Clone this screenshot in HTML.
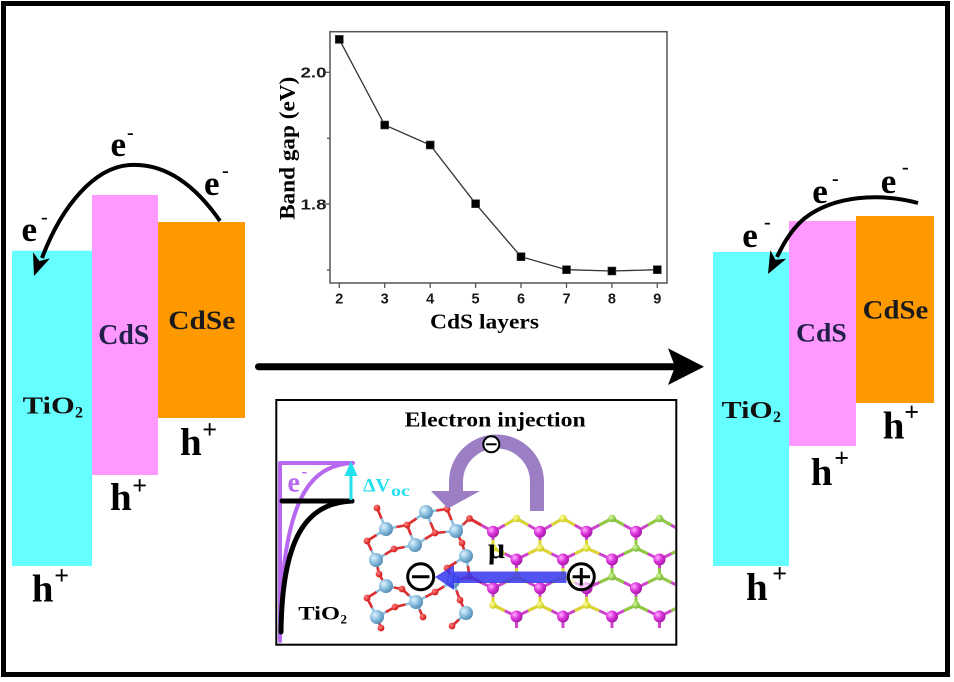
<!DOCTYPE html>
<html><head><meta charset="utf-8"><style>
html,body{margin:0;padding:0;background:#fff;}
svg{display:block;}
.sb{font-family:"Liberation Serif",serif;font-weight:bold;}
.ss{font-family:"Liberation Sans",sans-serif;font-weight:bold;}
</style></head><body>
<svg width="954" height="682" viewBox="0 0 954 682" xmlns="http://www.w3.org/2000/svg">
<defs>
<radialGradient id="gM" cx="0.35" cy="0.35" r="0.7"><stop offset="0" stop-color="#ffb0ff"/><stop offset="0.5" stop-color="#dd33dd"/><stop offset="1" stop-color="#a018a0"/></radialGradient>
<radialGradient id="gY" cx="0.35" cy="0.35" r="0.7"><stop offset="0" stop-color="#ffffa0"/><stop offset="1" stop-color="#cccc10"/></radialGradient>
<radialGradient id="gG" cx="0.35" cy="0.35" r="0.7"><stop offset="0" stop-color="#d8f5a0"/><stop offset="1" stop-color="#70b828"/></radialGradient>
<radialGradient id="gT" cx="0.35" cy="0.35" r="0.7"><stop offset="0" stop-color="#e0f2ff"/><stop offset="0.5" stop-color="#8cc0e0"/><stop offset="1" stop-color="#4f88b2"/></radialGradient>
<radialGradient id="gO" cx="0.35" cy="0.35" r="0.7"><stop offset="0" stop-color="#ff8080"/><stop offset="1" stop-color="#d01010"/></radialGradient>
<clipPath id="inset"><rect x="277.3" y="401" width="398" height="243"/></clipPath>
</defs>
<rect width="954" height="682" fill="#fff"/>
<!-- outer border -->
<rect x="3.5" y="3.5" width="944" height="671" fill="none" stroke="#000" stroke-width="5"/>

<!-- LEFT BAND DIAGRAM -->
<rect x="12" y="250.7" width="80" height="315.3" fill="#66ffff"/>
<rect x="92" y="195" width="66" height="280" fill="#ff99ff"/>
<rect x="158" y="222" width="87" height="196" fill="#ff9900"/>
<text class="sb" x="22.7" y="413.3" font-size="24" fill="#111" textLength="52" lengthAdjust="spacingAndGlyphs">TiO</text>
<text class="sb" x="75" y="417.5" font-size="16" fill="#111">2</text>
<text class="sb" x="98.3" y="344" font-size="28" fill="#22204a" textLength="51" lengthAdjust="spacingAndGlyphs">CdS</text>
<text class="sb" x="168.3" y="329" font-size="26" fill="#1a1a1a" textLength="67" lengthAdjust="spacingAndGlyphs">CdSe</text>
<path d="M220,221 C195,185 165,163 130,165 C95,167 62,205 42,258" fill="none" stroke="#000" stroke-width="4"/>
<polygon points="34,276 33,252.2 39.4,261 50,258.4" fill="#000"/>
<text class="sb" x="110.5" y="156" font-size="35">e</text><text class="sb" x="127" y="139" font-size="20">-</text>
<text class="sb" x="204" y="195" font-size="35">e</text><text class="sb" x="222" y="177" font-size="20">-</text>
<text class="sb" x="21.5" y="241" font-size="35">e</text><text class="sb" x="41" y="223.5" font-size="20">-</text>
<text class="sb" x="180" y="455" font-size="39">h</text><text class="sb" x="202.3" y="438" font-size="26">+</text>
<text class="sb" x="110" y="510" font-size="39">h</text><text class="sb" x="132.3" y="494" font-size="26">+</text>
<text class="sb" x="31.7" y="601.7" font-size="39">h</text><text class="sb" x="54.3" y="584" font-size="26">+</text>

<!-- RIGHT BAND DIAGRAM -->
<rect x="713" y="252" width="76" height="314" fill="#66ffff"/>
<rect x="789" y="221" width="67" height="225" fill="#ff99ff"/>
<rect x="856" y="216" width="78" height="187" fill="#ff9900"/>
<text class="sb" x="721.7" y="418" font-size="24" fill="#111" textLength="51" lengthAdjust="spacingAndGlyphs">TiO</text>
<text class="sb" x="773" y="422" font-size="16" fill="#111">2</text>
<text class="sb" x="796" y="341.7" font-size="26" fill="#22204a" textLength="50.7" lengthAdjust="spacingAndGlyphs">CdS</text>
<text class="sb" x="862.7" y="318.3" font-size="26" fill="#1a1a1a" textLength="65.6" lengthAdjust="spacingAndGlyphs">CdSe</text>
<path d="M918,203 C880,193 835,195 805,218 C795,226 785,240 777,257" fill="none" stroke="#000" stroke-width="4"/>
<polygon points="768,274 770.3,250.3 775.5,259.8 786.3,258.7" fill="#000"/>
<text class="sb" x="742.3" y="247" font-size="35">e</text><text class="sb" x="764" y="228.5" font-size="20">-</text>
<text class="sb" x="812.3" y="203" font-size="35">e</text><text class="sb" x="832" y="185" font-size="20">-</text>
<text class="sb" x="880.7" y="193" font-size="35">e</text><text class="sb" x="902" y="173.5" font-size="20">-</text>
<text class="sb" x="882.7" y="438.3" font-size="39">h</text><text class="sb" x="904.3" y="420.5" font-size="26">+</text>
<text class="sb" x="810.7" y="485" font-size="39">h</text><text class="sb" x="834.3" y="466.5" font-size="26">+</text>
<text class="sb" x="746" y="600" font-size="39">h</text><text class="sb" x="772.3" y="582" font-size="26">+</text>

<!-- BIG ARROW -->
<line x1="258.5" y1="366.7" x2="678" y2="366.7" stroke="#000" stroke-width="7" stroke-linecap="round"/>
<polygon points="704,366.7 668,348.3 675,366.7 668,385" fill="#000"/>

<!-- CHART -->
<rect x="330" y="31.7" width="337" height="251.3" fill="#fff" stroke="#555" stroke-width="1.5"/>
<g stroke="#555" stroke-width="1.3">
<line x1="339.3" y1="283" x2="339.3" y2="288"/><line x1="384.7" y1="283" x2="384.7" y2="288"/>
<line x1="430.2" y1="283" x2="430.2" y2="288"/><line x1="475.6" y1="283" x2="475.6" y2="288"/>
<line x1="521" y1="283" x2="521" y2="288"/><line x1="566.5" y1="283" x2="566.5" y2="288"/>
<line x1="611.9" y1="283" x2="611.9" y2="288"/><line x1="657.3" y1="283" x2="657.3" y2="288"/>
<line x1="325" y1="72.3" x2="330" y2="72.3"/><line x1="325" y1="204" x2="330" y2="204"/>
<line x1="327" y1="138.3" x2="330" y2="138.3"/><line x1="327" y1="270" x2="330" y2="270"/>
</g>
<polyline points="339.3,39.4 384.7,125 430.2,145 475.6,203.7 521,256.7 566.5,269.7 611.9,271 657.3,269.7" fill="none" stroke="#333" stroke-width="1.3"/>
<g fill="#000" stroke="#444" stroke-width="0.6">
<rect x="335.3" y="35.4" width="8" height="8"/><rect x="380.7" y="121" width="8" height="8"/>
<rect x="426.2" y="141" width="8" height="8"/><rect x="471.6" y="199.7" width="8" height="8"/>
<rect x="517" y="252.7" width="8" height="8"/><rect x="562.5" y="265.7" width="8" height="8"/>
<rect x="607.9" y="267" width="8" height="8"/><rect x="653.3" y="265.7" width="8" height="8"/>
</g>
<g font-family="Liberation Sans, sans-serif" font-weight="bold" font-size="14.5" fill="#1a1a1a" text-anchor="middle">
<text x="339.3" y="303.3">2</text><text x="384.7" y="303.3">3</text><text x="430.2" y="303.3">4</text>
<text x="475.6" y="303.3">5</text><text x="521" y="303.3">6</text><text x="566.5" y="303.3">7</text>
<text x="611.9" y="303.3">8</text><text x="657.3" y="303.3">9</text>
</g>
<text font-family="Liberation Sans, sans-serif" font-weight="bold" x="300.5" y="77.7" font-size="14.5" fill="#1a1a1a" textLength="26" lengthAdjust="spacingAndGlyphs">2.0</text>
<text font-family="Liberation Sans, sans-serif" font-weight="bold" x="300.5" y="209.3" font-size="14.5" fill="#1a1a1a" textLength="26" lengthAdjust="spacingAndGlyphs">1.8</text>
<text class="sb" transform="translate(294.5,148.3) rotate(-90)" x="-71.5" y="0" font-size="22" textLength="143" lengthAdjust="spacingAndGlyphs">Band gap (eV)</text>
<text class="sb" x="430" y="328.3" font-size="21.5" textLength="109" lengthAdjust="spacingAndGlyphs">CdS layers</text>

<!-- INSET -->
<rect x="276.3" y="400" width="400" height="244.7" fill="#fff" stroke="#000" stroke-width="2"/>
<text class="sb" x="404.7" y="426.7" font-size="21" textLength="181" lengthAdjust="spacingAndGlyphs">Electron injection</text>

<g clip-path="url(#inset)">
<g fill="none" stroke="#cc44cc" stroke-width="3">
<polyline points="469.5,518.5 493,531.7 516.5,518.5 540,531.7 563,518.5 586.5,531.7 612,518.5 636,531.7 659.5,518.5 683,531.7"/>
<polyline points="493,548 516.5,559.5 540,548 563,559.5 586.5,548 612,559.5 636,548 659.5,559.5 683,548"/>
<polyline points="469.5,576.7 493,588.3 516.5,576.7 540,588.3 563,576.7 586.5,588.3 612,576.7 636,588.3 659.5,576.7 683,588.3"/>
<polyline points="493,605 516.5,616.5 540,605 563,616.5 586.5,605 612,616.5 636,605 659.5,616.5 683,605"/>
<path d="M493,531.7V548M540,531.7V548M586.5,531.7V548M636,531.7V548M683,531.7V548M516.5,559.5V576.7M563,559.5V576.7M612,559.5V576.7M659.5,559.5V576.7M493,588.3V605M540,588.3V605M586.5,588.3V605M636,588.3V605M683,588.3V605M516.5,616.5V628M563,616.5V628M612,616.5V628M659.5,616.5V628"/>
</g>
<path fill="none" stroke="#d8d830" stroke-width="3" d="M516.5,518.5L504.75,525.1M516.5,518.5L528.25,525.1M563,518.5L551.5,525.1M563,518.5L574.75,525.1M493,548L493,539.85M493,548L504.75,553.75M540,548L540,539.85M540,548L528.25,553.75M540,548L551.5,553.75M586.5,548L586.5,539.85M586.5,548L574.75,553.75M586.5,548L599.25,553.75M516.5,576.7L516.5,568.1M516.5,576.7L504.75,582.5M516.5,576.7L528.25,582.5M563,576.7L563,568.1M563,576.7L551.5,582.5M563,576.7L574.75,582.5M493,605L493,596.65M493,605L504.75,610.75M540,605L540,596.65M540,605L528.25,610.75M540,605L551.5,610.75M586.5,605L586.5,596.65M586.5,605L574.75,610.75M586.5,605L599.25,610.75"/>
<path fill="none" stroke="#8fcc40" stroke-width="3" d="M612,518.5L599.25,525.1M612,518.5L624,525.1M659.5,518.5L647.75,525.1M659.5,518.5L671.25,525.1M636,548L636,539.85M636,548L624,553.75M636,548L647.75,553.75M683,548L683,539.85M683,548L671.25,553.75M612,576.7L612,568.1M612,576.7L599.25,582.5M612,576.7L624,582.5M659.5,576.7L659.5,568.1M659.5,576.7L647.75,582.5M659.5,576.7L671.25,582.5M636,605L636,596.65M636,605L624,610.75M636,605L647.75,610.75M683,605L683,596.65M683,605L671.25,610.75"/>
<path fill="none" stroke="#e03030" stroke-width="3" d="M469.5,518.5L481.25,525.1M469.5,576.7L481.25,582.5"/>

<path fill="none" stroke="#8cc2e0" stroke-width="2.6" d="M377,508L386,529M447,509L426,512M447,509L456,531M407,525L386,529M407,525L426,512M407,525L415,545M435,533L456,531M435,533L415,545M435,533L426,512M469.5,518.5L456,531M367,541L386,529M367,541L376,560M394,549L415,545M394,549L376,560M462,543L456,531M462,543L466,556M447,568L466,556M447,568L453,581M379,574L376,560M379,574L386,586M402,589L386,586M402,589L416,602M435,592L453,581M435,592L416,602M367,598L386,586M367,598L377,617M395,607L416,602M395,607L377,617M460,600L453,581M460,600L466,613M423,617L416,602M452,626L466,613M381,628L377,617M469.5,576.7L466,556M469.5,576.7L453,581"/>
<path fill="none" stroke="#e03030" stroke-width="2.6" d="M377,508L381.5,518.5M447,509L436.5,510.5M447,509L451.5,520M407,525L396.5,527M407,525L416.5,518.5M407,525L411,535M435,533L445.5,532M435,533L425,539M435,533L430.5,522.5M469.5,518.5L463,524.75M367,541L376.5,535M367,541L371.5,550.5M394,549L404.5,547M394,549L385,554.5M462,543L459,537M462,543L464,549.5M447,568L456.5,562M447,568L450,574.5M379,574L377.5,567M379,574L382.5,580M402,589L394,587.5M402,589L409,595.5M435,592L444,586.5M435,592L425.5,597M367,598L376.5,592M367,598L372,607.5M395,607L405.5,604.5M395,607L386,612M460,600L456.5,590.5M460,600L463,606.5M423,617L419.5,609.5M452,626L459,619.5M381,628L379,622.5M469.5,576.7L468,566M469.5,576.7L461,579"/>

<g fill="url(#gO)">
<circle cx="377" cy="508" r="3.4"/><circle cx="447" cy="509" r="3.4"/><circle cx="407" cy="525" r="3.4"/>
<circle cx="435" cy="533" r="3.4"/><circle cx="469.5" cy="518.5" r="3.4"/><circle cx="367" cy="541" r="3.4"/>
<circle cx="394" cy="549" r="3.4"/><circle cx="462" cy="543" r="3.4"/><circle cx="447" cy="568" r="3.4"/>
<circle cx="379" cy="574" r="3.4"/><circle cx="402" cy="589" r="3.4"/><circle cx="435" cy="592" r="3.4"/>
<circle cx="367" cy="598" r="3.4"/><circle cx="395" cy="607" r="3.4"/><circle cx="460" cy="600" r="3.4"/>
<circle cx="423" cy="617" r="3.4"/><circle cx="452" cy="626" r="3.4"/><circle cx="381" cy="628" r="3.4"/>
<circle cx="469.5" cy="576.7" r="3.4"/>
</g>
<g fill="url(#gT)">
<circle cx="426" cy="512" r="7"/><circle cx="386" cy="529" r="7"/><circle cx="456" cy="531" r="7"/>
<circle cx="415" cy="545" r="7"/><circle cx="376" cy="560" r="7"/><circle cx="466" cy="556" r="7"/>
<circle cx="386" cy="586" r="7"/><circle cx="453" cy="581" r="7"/><circle cx="416" cy="602" r="7"/>
<circle cx="377" cy="617" r="7"/><circle cx="466" cy="613" r="7"/>
</g>
<g fill="url(#gY)">
<circle cx="516.5" cy="518.5" r="3.8"/><circle cx="563" cy="518.5" r="3.8"/>
<circle cx="493" cy="548" r="3.8"/><circle cx="540" cy="548" r="3.8"/><circle cx="586.5" cy="548" r="3.8"/>
<circle cx="516.5" cy="576.7" r="3.8"/><circle cx="563" cy="576.7" r="3.8"/>
<circle cx="493" cy="605" r="3.8"/><circle cx="540" cy="605" r="3.8"/><circle cx="586.5" cy="605" r="3.8"/>
</g>
<g fill="url(#gG)">
<circle cx="612" cy="518.5" r="3.8"/><circle cx="659.5" cy="518.5" r="3.8"/>
<circle cx="636" cy="548" r="3.8"/><circle cx="683" cy="548" r="3.8"/>
<circle cx="612" cy="576.7" r="3.8"/><circle cx="659.5" cy="576.7" r="3.8"/>
<circle cx="636" cy="605" r="3.8"/><circle cx="683" cy="605" r="3.8"/>
</g>
<g fill="url(#gM)">
<circle cx="493" cy="531.7" r="6"/><circle cx="540" cy="531.7" r="6"/><circle cx="586.5" cy="531.7" r="6"/><circle cx="636" cy="531.7" r="6"/><circle cx="683" cy="531.7" r="6"/>
<circle cx="516.5" cy="559.5" r="6"/><circle cx="563" cy="559.5" r="6"/><circle cx="612" cy="559.5" r="6"/><circle cx="659.5" cy="559.5" r="6"/>
<circle cx="493" cy="588.3" r="6"/><circle cx="540" cy="588.3" r="6"/><circle cx="586.5" cy="588.3" r="6"/><circle cx="636" cy="588.3" r="6"/><circle cx="683" cy="588.3" r="6"/>
<circle cx="516.5" cy="616.5" r="6"/><circle cx="563" cy="616.5" r="6"/><circle cx="612" cy="616.5" r="6"/><circle cx="659.5" cy="616.5" r="6"/>
</g>
</g>

<!-- purple injection arc -->
<path d="M537,511 L537,482 A40,40 0 0 0 456,482 L456,492" fill="none" stroke="#9b7ec3" stroke-width="14"/>
<polygon points="431,491 480,491 448,508.5" fill="#9b7ec3"/>
<circle cx="491.3" cy="444.3" r="8" fill="#fff" stroke="#000" stroke-width="2"/>
<line x1="486" y1="444.3" x2="496.6" y2="444.3" stroke="#000" stroke-width="2"/>

<!-- blue dipole arrow -->
<g fill="#3535ee" fill-opacity="0.85">
<rect x="453" y="571.5" width="113.5" height="11.5"/>
<polygon points="435,577 454,565 454,590"/>
</g>
<text class="sb" x="488" y="558" font-size="30">μ</text>
<circle cx="420.7" cy="576.7" r="13" fill="#fff" fill-opacity="0.75" stroke="#000" stroke-width="3"/>
<line x1="412" y1="576.7" x2="429.4" y2="576.7" stroke="#000" stroke-width="3"/>
<circle cx="581.3" cy="576.7" r="13" fill="#fff" fill-opacity="0.6" stroke="#000" stroke-width="3"/>
<line x1="572.6" y1="576.7" x2="590" y2="576.7" stroke="#000" stroke-width="3"/>
<line x1="581.3" y1="568" x2="581.3" y2="585.4" stroke="#000" stroke-width="3"/>

<!-- inset band bending -->
<path d="M280,641 L280,463 L353,463" fill="none" stroke="#b868f0" stroke-width="4" stroke-linecap="round" stroke-linejoin="round"/>
<path d="M353,463 C315,465 290,490 282,585" fill="none" stroke="#b868f0" stroke-width="4"/>
<line x1="282" y1="501" x2="352" y2="501" stroke="#000" stroke-width="5" stroke-linecap="round"/>
<path d="M352,501 C305,503 282,540 281,632" fill="none" stroke="#000" stroke-width="5" stroke-linecap="round"/>
<line x1="351" y1="500" x2="351" y2="472" stroke="#22e0ee" stroke-width="3"/>
<polygon points="351,461 344.5,476 357.5,476" fill="#22e0ee"/>
<text class="sb" x="287.5" y="491.7" font-size="28" fill="#b868f0">e</text>
<text class="sb" x="301.5" y="477" font-size="17" fill="#b868f0">-</text>
<text class="sb" x="363" y="491.7" font-size="19" fill="#22e0ee" textLength="27" lengthAdjust="spacingAndGlyphs">ΔV</text>
<text class="sb" x="391" y="496" font-size="16" fill="#22e0ee" textLength="19" lengthAdjust="spacingAndGlyphs">oc</text>
<text class="sb" x="298.3" y="619.3" font-size="19" fill="#000" textLength="41.7" lengthAdjust="spacingAndGlyphs">TiO</text>
<text class="sb" x="340.5" y="623.5" font-size="13" fill="#000">2</text>
</svg>
</body></html>
